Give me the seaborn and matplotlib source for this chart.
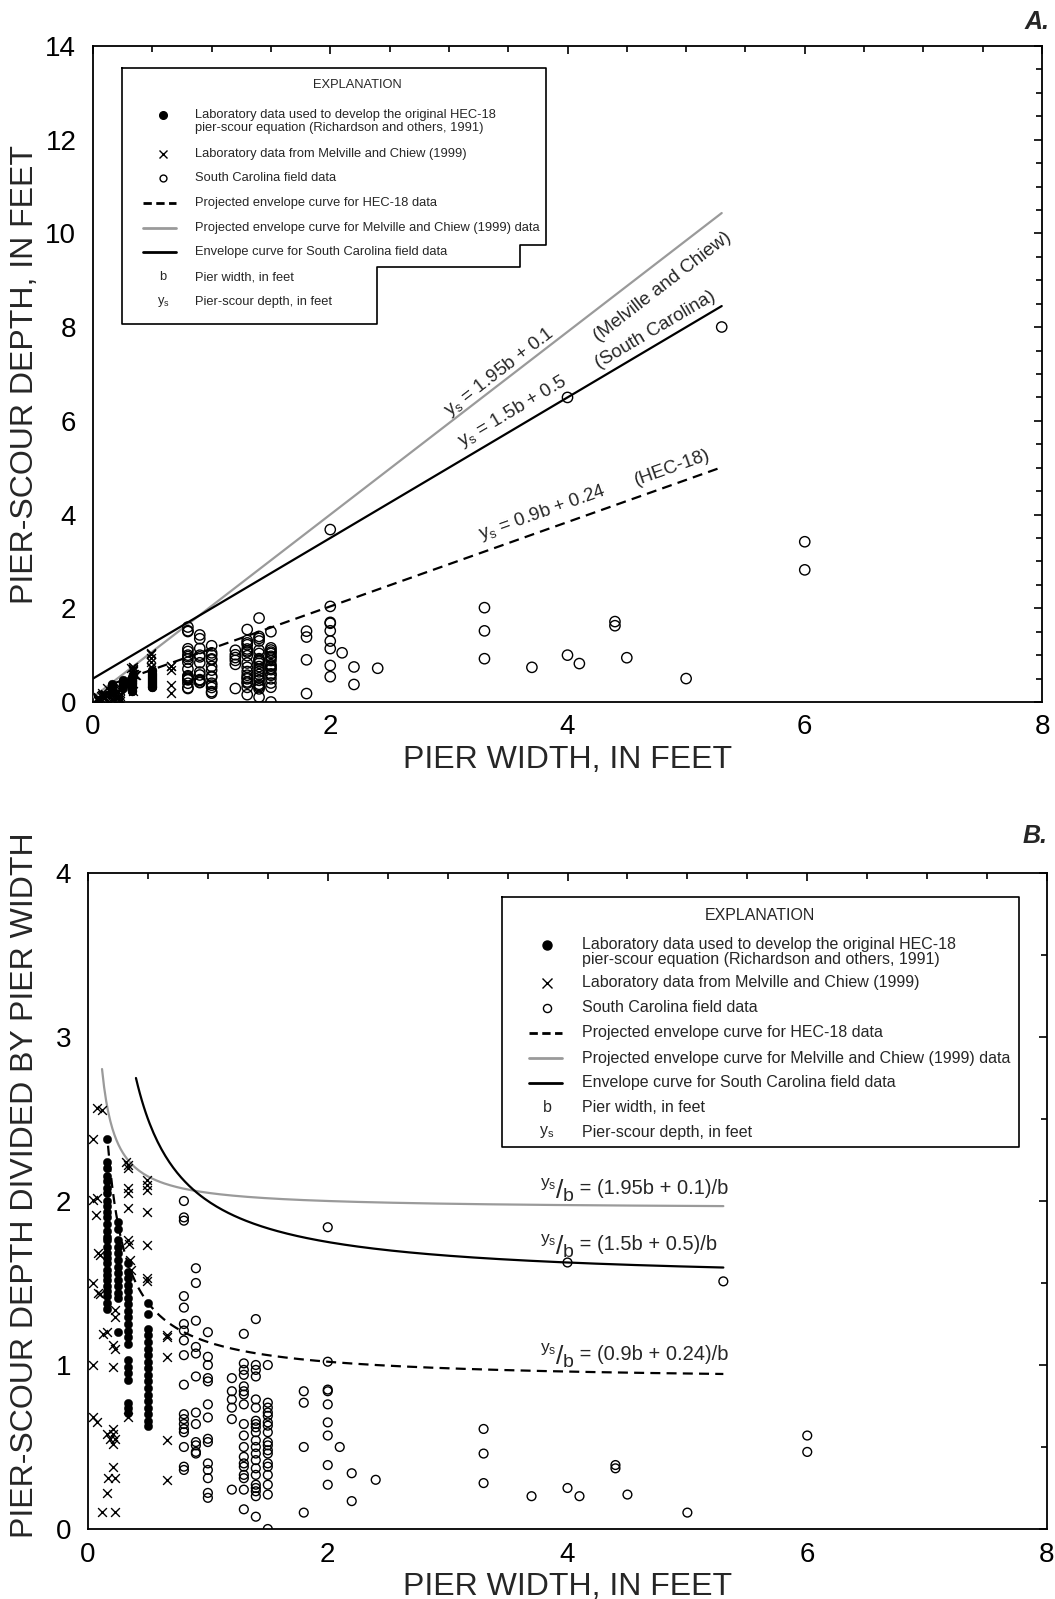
import numpy as np
import pandas as pd
import matplotlib
matplotlib.use("Agg")
import matplotlib.pyplot as plt
import seaborn as sns
from matplotlib.lines import Line2D

# ---------------- data ----------------
# HEC-18 laboratory data (Richardson and others, 1991): ys/b for each pier width b (ft)
hec_r_016 = [2.38, 2.24, 2.20, 2.15, 2.12, 2.08, 2.05, 2.00, 1.97, 1.93, 1.90, 1.86, 1.82, 1.78,
             1.76, 1.72, 1.68, 1.65, 1.62, 1.58, 1.55, 1.52, 1.48, 1.45, 1.42, 1.38, 1.34]
hec_r_025 = [1.87, 1.83, 1.76, 1.72, 1.68, 1.64, 1.60, 1.56, 1.52, 1.48, 1.44, 1.41, 1.20]
hec_r_033 = [1.62, 1.57, 1.53, 1.49, 1.45, 1.41, 1.37, 1.33, 1.29, 1.25, 1.21, 1.17, 1.13,
             1.03, 0.99, 0.95, 0.91, 0.77, 0.74, 0.71]
hec_r_050 = [1.38, 1.31, 1.22, 1.18, 1.14, 1.10, 1.06, 1.02, 0.98, 0.94, 0.90, 0.86, 0.82,
             0.78, 0.74, 0.70, 0.66, 0.63]
hec_widths = [0.16, 0.25, 0.33, 0.50]

# Melville and Chiew (1999) laboratory data: b (ft) and ys/b
mc_b = [0.072, 0.114, 0.045, 0.045, 0.072, 0.065, 0.086, 0.100, 0.045, 0.086, 0.100, 0.128,
        0.156, 0.045, 0.225, 0.225, 0.211, 0.225, 0.211, 0.320, 0.337, 0.337, 0.337, 0.337,
        0.337, 0.337, 0.345, 0.350, 0.360, 0.490, 0.490, 0.490, 0.490, 0.490, 0.490, 0.490,
        0.656, 0.656, 0.656, 0.656, 0.656, 0.337, 0.045, 0.072, 0.156, 0.184, 0.211, 0.225,
        0.211, 0.211, 0.167, 0.225, 0.211, 0.156, 0.114, 0.225]
mc_r = [2.565, 2.555, 2.376, 2.006, 2.016, 1.915, 1.68, 1.67, 1.50, 1.44, 1.43, 1.19,
        1.20, 1.00, 1.335, 1.29, 1.12, 1.10, 0.99, 2.24, 2.22, 2.20, 2.08, 2.05,
        1.96, 1.76, 1.74, 1.64, 1.58, 2.13, 2.10, 2.07, 1.93, 1.73, 1.53, 1.51,
        1.18, 1.17, 1.05, 0.543, 0.30, 0.685, 0.685, 0.655, 0.58, 0.55, 0.58, 0.55,
        0.52, 0.61, 0.31, 0.31, 0.38, 0.218, 0.105, 0.105]

# South Carolina field data: ys/b for each pier width b (ft)
sc_groups = {
    0.8: [2.00, 1.90, 1.88, 1.42, 1.35, 1.25, 1.21, 1.15, 1.06, 0.88, 0.70, 0.67, 0.64, 0.61,
          0.59, 0.50, 0.38, 0.36],
    0.9: [1.59, 1.50, 1.27, 1.11, 1.07, 0.93, 0.71, 0.64, 0.53, 0.51, 0.47, 0.46],
    1.0: [1.20, 1.05, 1.00, 0.92, 0.90, 0.76, 0.68, 0.55, 0.53, 0.40, 0.36, 0.31, 0.22, 0.19],
    1.2: [0.92, 0.84, 0.79, 0.74, 0.67, 0.24],
    1.3: [1.19, 1.01, 0.97, 0.94, 0.87, 0.84, 0.82, 0.76, 0.64, 0.57, 0.50, 0.44, 0.40, 0.38,
          0.33, 0.31, 0.24, 0.12],
    1.4: [1.28, 1.00, 0.97, 0.93, 0.79, 0.74, 0.66, 0.64, 0.62, 0.59, 0.54, 0.50, 0.46, 0.42,
          0.37, 0.33, 0.27, 0.25, 0.23, 0.20, 0.075],
    1.5: [1.00, 0.77, 0.74, 0.71, 0.69, 0.65, 0.63, 0.59, 0.53, 0.51, 0.48, 0.46, 0.40, 0.38,
          0.33, 0.27, 0.21, 0.00],
    1.8: [0.84, 0.77, 0.50, 0.10],
    2.0: [1.84, 1.02, 0.85, 0.84, 0.76, 0.65, 0.57, 0.39, 0.27],
    2.1: [0.50],
    2.2: [0.34, 0.17],
    2.4: [0.30],
    3.3: [0.61, 0.46, 0.28],
    3.7: [0.20],
    4.0: [1.625, 0.25],
    4.1: [0.20],
    4.4: [0.39, 0.37],
    4.5: [0.21],
    5.0: [0.10],
    5.3: [1.51],
    6.0: [0.57, 0.47],
}

# Envelope curves ys = slope*b + intercept, and the pier-width range drawn
env_names = ["HEC-18", "Melville and Chiew", "South Carolina"]
env_slope = [0.9, 1.95, 1.5]
env_icept = [0.24, 0.1, 0.5]
env_bstart_top = [0.16, 0.0, 0.0]
env_bstart_bot = [0.167, 0.117, 0.40]
env_bend = 5.3

x_ticks = [0, 2, 4, 6, 8]
y_ticks_top = [0, 2, 4, 6, 8, 10, 12, 14]
y_ticks_bot = [0, 1, 2, 3, 4]

# ---------------- build tables ----------------
hec = pd.DataFrame({
    "b": np.concatenate([[w] * len(r) for w, r in
                         zip(hec_widths, [hec_r_016, hec_r_025, hec_r_033, hec_r_050])]),
    "r": np.concatenate([hec_r_016, hec_r_025, hec_r_033, hec_r_050]),
})
hec["ys"] = hec["r"] * hec["b"]
mc = pd.DataFrame({"b": mc_b, "r": mc_r})
mc["ys"] = mc["r"] * mc["b"]
sc = pd.DataFrame([(b, r) for b, rs in sc_groups.items() for r in rs], columns=["b", "r"])
sc["ys"] = sc["r"] * sc["b"]

# ---------------- style ----------------
sns.set_theme(style="white")
FONT = "Liberation Sans"
plt.rcParams["font.family"] = [FONT, "DejaVu Sans"]
plt.rcParams["mathtext.fontset"] = "custom"
plt.rcParams["mathtext.rm"] = FONT
plt.rcParams["mathtext.it"] = FONT
plt.rcParams["mathtext.default"] = "regular"
plt.rcParams["axes.linewidth"] = 1.3

W, H = 1055, 1599
fig = plt.figure(figsize=(W / 100, H / 100), dpi=100)
fig.patch.set_facecolor("white")


def fx(px):
    return px / W


def fy(py):
    return 1 - py / H


ax1 = fig.add_axes([fx(93), fy(702), fx(1042) - fx(93), fy(46) - fy(702)])
ax2 = fig.add_axes([fx(88), fy(1529), fx(1047) - fx(88), fy(873) - fy(1529)])

GRAY = "#9a9a9a"
line_styles = [dict(color="black", ls=(0, (4.5, 2.8))),
               dict(color=GRAY, ls="-"),
               dict(color="black", ls="-")]

circle_kw = dict(marker="o", facecolors="none", edgecolor="black", linewidth=1.0, zorder=4)
dot_kw = dict(marker="o", color="black", edgecolor="black", linewidth=0.3, zorder=4)
x_kw = dict(marker="x", color="black", linewidth=1.0, zorder=4)

# ---------------- panel A ----------------
sns.scatterplot(data=sc, x="b", y="ys", ax=ax1, s=55, legend=False, **circle_kw)
sns.scatterplot(data=hec, x="b", y="ys", ax=ax1, s=40, legend=False, **dot_kw)
sns.scatterplot(data=mc, x="b", y="ys", ax=ax1, s=40, legend=False, **x_kw)
for i in range(3):
    bb = np.linspace(env_bstart_top[i], env_bend, 200)
    d = pd.DataFrame({"b": bb, "y": env_slope[i] * bb + env_icept[i]})
    sns.lineplot(data=d, x="b", y="y", ax=ax1, lw=1.6, legend=False, zorder=3,
                 **line_styles[i])

# ---------------- panel B ----------------
sns.scatterplot(data=sc, x="b", y="r", ax=ax2, s=40, legend=False, **circle_kw)
sns.scatterplot(data=hec, x="b", y="r", ax=ax2, s=36, legend=False, **dot_kw)
sns.scatterplot(data=mc, x="b", y="r", ax=ax2, s=40, legend=False, **x_kw)
for i in range(3):
    bb = np.linspace(env_bstart_bot[i], env_bend, 300)
    d = pd.DataFrame({"b": bb, "y": (env_slope[i] * bb + env_icept[i]) / bb})
    sns.lineplot(data=d, x="b", y="y", ax=ax2, lw=1.6, legend=False, zorder=3,
                 **line_styles[i])

# ---------------- axes formatting ----------------
for ax, yt, ylab, ymax, lab_xy in [
        (ax1, y_ticks_top, "PIER-SCOUR DEPTH, IN FEET", 14, (-0.0558, 0.5)),
        (ax2, y_ticks_bot, "PIER-SCOUR DEPTH DIVIDED BY PIER WIDTH", 4, (-0.0500, 0.524))]:
    ax.set_xlim(0, 8)
    ax.set_ylim(0, ymax)
    ax.set_xticks(x_ticks)
    ax.set_yticks(yt)
    ax.set_xticks(np.arange(0, 8.01, 0.5), minor=True)
    ax.set_yticks(np.arange(0, ymax + 0.01, 0.5), minor=True)
    ax.tick_params(which="both", direction="in", top=True, right=True, width=1.2,
                   colors="black", labelsize=20)
    ax.tick_params(which="major", length=6)
    ax.tick_params(which="minor", length=4.5)
    ax.tick_params(axis="y", which="major", pad=12)
    ax.tick_params(axis="x", which="major", pad=9)
    ax.set_xlabel("PIER WIDTH, IN FEET", fontsize=23, labelpad=3)
    ax.set_ylabel(ylab, fontsize=23)
    ax.yaxis.set_label_coords(*lab_xy)
    for s in ax.spines.values():
        s.set_color("black")

# ---------------- equation labels ----------------
fig.canvas.draw()


def angle_of(ax, slope):
    p0 = ax.transData.transform((1, slope * 1))
    p1 = ax.transData.transform((2, slope * 2))
    return np.degrees(np.arctan2(p1[1] - p0[1], p1[0] - p0[0]))


ann_top = [
    (r"$y_s$ = 1.95b + 0.1", 3.43, 7.04, 1.95),
    ("(Melville and Chiew)", 4.80, 8.85, 1.95),
    (r"$y_s$ = 1.5b + 0.5", 3.54, 6.20, 1.5),
    ("(South Carolina)", 4.74, 7.95, 1.5),
    (r"$y_s$ = 0.9b + 0.24", 3.79, 4.03, 0.9),
    ("(HEC-18)", 4.88, 5.01, 0.9),
]
for txt, xb, yv, sl in ann_top:
    ax1.text(xb, yv, txt, rotation=angle_of(ax1, sl), rotation_mode="anchor",
             ha="center", va="center", fontsize=13.5, zorder=5)

# panel B equations: "ys/b" built from pieces (superscript ys, large slash, subscript b)
ann_bot = [
    (" = (1.95b + 0.1)/b", 2.04),
    (" = (1.5b + 0.5)/b", 1.70),
    (" = (0.9b + 0.24)/b", 1.03),
]
for rest, yv in ann_bot:
    parts = [(r"$y_s$", 12.5, 5.5, 0), ("/", 19, -2.5, -0.5), ("b", 14, -5, 0),
             (rest, 14.5, 0, 0)]
    prev = None
    for s, fs, dy, dx in parts:
        if prev is None:
            prev = ax2.annotate(s, xy=(3.77, yv), xycoords="data", xytext=(dx, dy),
                                textcoords="offset points", fontsize=fs, ha="left",
                                va="baseline", zorder=5)
        else:
            prev = ax2.annotate(s, xy=(1, yv), xycoords=(prev, "data"), xytext=(dx, dy),
                                textcoords="offset points", fontsize=fs, ha="left",
                                va="baseline", zorder=5)

# ---------------- explanation boxes ----------------
legend_labels = [
    ["Laboratory data used to develop the original HEC-18",
     "pier-scour equation (Richardson and others, 1991)"],
    "Laboratory data from Melville and Chiew (1999)",
    "South Carolina field data",
    "Projected envelope curve for HEC-18 data",
    "Projected envelope curve for Melville and Chiew (1999) data",
    "Envelope curve for South Carolina field data",
    "Pier width, in feet",
    "Pier-scour depth, in feet",
]


def draw_explanation(title_xy, sym_x, txt_x, rows, line2, seg, box, fs, ms):
    fig.text(fx(title_xy[0]), fy(title_xy[1]), "EXPLANATION", ha="center", va="center",
             fontsize=fs)
    kinds = ["dot", "x", "circle", "dash", "gray", "black", "b", "ys"]
    for kind, lab, ry in zip(kinds, legend_labels, rows):
        if kind == "dot":
            fig.add_artist(Line2D([fx(sym_x)], [fy(ry)], marker="o", color="black",
                                  markersize=ms, transform=fig.transFigure, ls="none"))
            fig.text(fx(txt_x), fy(ry), lab[0], ha="left", va="center", fontsize=fs)
            fig.text(fx(txt_x), fy(ry + line2), lab[1], ha="left", va="center", fontsize=fs)
            continue
        if kind == "x":
            fig.add_artist(Line2D([fx(sym_x)], [fy(ry)], marker="x", color="black",
                                  markersize=ms, mew=1.0, transform=fig.transFigure, ls="none"))
        elif kind == "circle":
            fig.add_artist(Line2D([fx(sym_x)], [fy(ry)], marker="o", mfc="none", mec="black",
                                  markersize=ms * 0.9, mew=1.0, transform=fig.transFigure,
                                  ls="none"))
        elif kind in ("dash", "gray", "black"):
            st = {"dash": line_styles[0], "gray": line_styles[1], "black": line_styles[2]}[kind]
            fig.add_artist(Line2D([fx(seg[0]), fx(seg[1])], [fy(ry), fy(ry)], lw=2.0,
                                  transform=fig.transFigure, color=st["color"],
                                  ls=(0, (3.0, 1.6)) if kind == "dash" else "-"))
        elif kind == "b":
            fig.text(fx(sym_x), fy(ry), "b", ha="center", va="center", fontsize=fs)
        elif kind == "ys":
            fig.text(fx(sym_x), fy(ry), r"$y_s$", ha="center", va="center", fontsize=fs)
        fig.text(fx(txt_x), fy(ry), lab, ha="left", va="center", fontsize=fs)
    xs = [fx(p[0]) for p in box]
    ys = [fy(p[1]) for p in box]
    fig.add_artist(Line2D(xs + [xs[0]], ys + [ys[0]], color="black", lw=1.2,
                          transform=fig.transFigure))


# panel A explanation (stepped box)
draw_explanation(title_xy=(357, 85), sym_x=163, txt_x=195,
                 rows=[115, 154, 178, 203, 228, 252, 277, 302], line2=12.5, seg=(143, 176),
                 box=[(122, 68), (546, 68), (546, 245), (520, 245), (520, 267), (377, 267),
                      (377, 324), (122, 324)], fs=9.3, ms=5.5)
# panel B explanation
draw_explanation(title_xy=(760, 915), sym_x=547, txt_x=582,
                 rows=[945, 983, 1008, 1033, 1058, 1083, 1107, 1132], line2=14.5,
                 seg=(529, 562), box=[(502, 897), (1019, 897), (1019, 1147), (502, 1147)],
                 fs=11.5, ms=6.5)

# panel letters
fig.text(fx(1050), fy(22), "A.", ha="right", va="center", fontsize=18,
         fontweight="bold", fontstyle="italic")
fig.text(fx(1048), fy(836), "B.", ha="right", va="center", fontsize=18,
         fontweight="bold", fontstyle="italic")

fig.savefig("out.png", dpi=100, facecolor="white")
